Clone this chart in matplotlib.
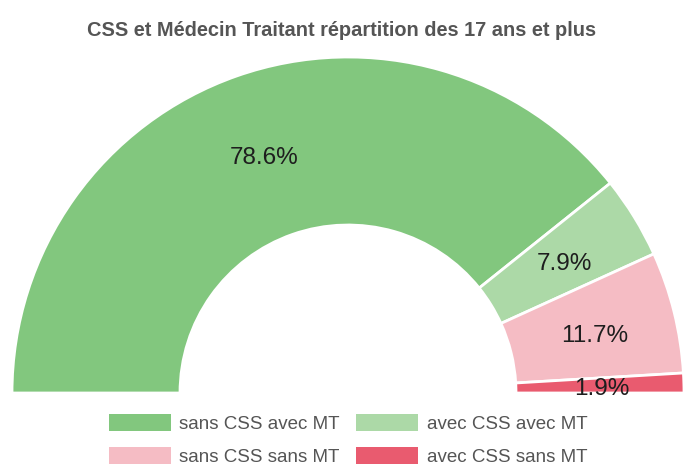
"""Half-donut: CSS et Medecin Traitant, 17 ans et plus."""
import matplotlib
matplotlib.use("Agg")
import matplotlib.pyplot as plt
from matplotlib import font_manager
from matplotlib.patches import Patch
import numpy as np

categories = ["sans CSS avec MT", "avec CSS avec MT",
              "sans CSS sans MT", "avec CSS sans MT"]
values = [78.6, 7.9, 11.7, 1.9]
colors = ["#82c77e", "#acd9a7", "#f5bcc4", "#e95b6f"]
title = "CSS et Médecin Traitant répartition des 17 ans et plus"

W, H = 684, 468
installed = {f.name for f in font_manager.fontManager.ttflist}
narrow = "Liberation Sans Narrow" in installed
plt.rcParams["font.family"] = ["Liberation Sans", "DejaVu Sans"]

fig = plt.figure(figsize=(W / 100, H / 100), dpi=100)
ax = fig.add_axes([0, 0, 1, 1])

# half donut: add an invisible wedge equal to the total
total = sum(values)
cx, cy, r_out = 348, H - 393, 336
wedges, _ = ax.pie(values + [total], colors=colors + ["none"],
                   startangle=180, counterclock=False,
                   center=(cx, cy), radius=r_out, frame=True,
                   wedgeprops=dict(width=r_out * 0.5,
                                   edgecolor="white", linewidth=2))
wedges[-1].set_edgecolor("none")
ax.set_xlim(0, W)
ax.set_ylim(0, H)
ax.axis("off")

for w, v in zip(wedges[:-1], values):
    mid = np.deg2rad((w.theta1 + w.theta2) / 2)
    rr = r_out * 0.755
    ax.text(cx + rr * np.cos(mid), cy + rr * np.sin(mid) - 4, f"{v:.1f}%",
            ha="center", va="center", fontsize=17.5, color="#1e1e1e")

if narrow:
    fig.text(342 / W, 1 - 31 / H, title, ha="center", va="center",
             fontsize=17, fontweight="bold", color="#555555",
             family=["Liberation Sans Narrow", "Liberation Sans"])
else:
    fig.text(342 / W, 1 - 31 / H, title, ha="center", va="center",
             fontsize=14.4, fontweight="bold", color="#555555")

order = [0, 2, 1, 3]
handles = [Patch(facecolor=colors[i], edgecolor="none") for i in order]
labels = [categories[i] for i in order]
leg = fig.legend(handles, labels, ncol=2, loc="center",
                 bbox_to_anchor=(348 / W, 1 - 440 / H), frameon=False,
                 fontsize=13.5, handlelength=3.3, handleheight=1.0,
                 handletextpad=0.45, columnspacing=0.9, labelspacing=0.75,
                 borderpad=0)
for t in leg.get_texts():
    t.set_color("#555555")

fig.savefig("out.png", dpi=100)
